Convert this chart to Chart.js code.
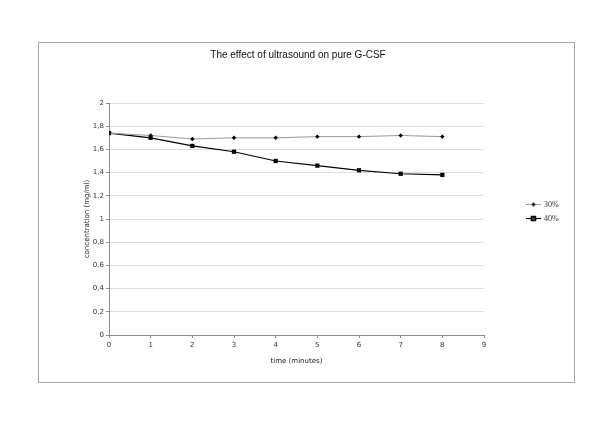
<!DOCTYPE html>
<html>
<head>
<meta charset="utf-8">
<script src="https://cdn.jsdelivr.net/npm/chart.js@4/dist/chart.umd.min.js"></script>
<style>
  html, body { margin: 0; padding: 0; background: #fff; }
  #wrap { width: 600px; height: 424px; }
</style>
</head>
<body>
<div id="wrap"><canvas id="myChart" width="600" height="424"></canvas></div>
<script>
// Ultrasound effect on G-CSF, redrawn with Chart.js

const times = [0, 1, 2, 3, 4, 5, 6, 7, 8];
const conc30 = [1.74, 1.72, 1.69, 1.70, 1.70, 1.71, 1.71, 1.72, 1.71];
const conc40 = [1.74, 1.70, 1.63, 1.58, 1.50, 1.46, 1.42, 1.39, 1.38];
const seriesNames = ['30%', '40%'];
const yTickLabels = ['0', '0,2', '0,4', '0,6', '0,8', '1', '1,2', '1,4', '1,6', '1,8', '2'];
const xTickLabels = ['0', '1', '2', '3', '4', '5', '6', '7', '8', '9'];

const tickFont = { family: 'DejaVu Sans', size: 7 };

// outer frame + a legend with line and marker, like the original sheet
const framePlugin = {
    id: 'frame',
    beforeDraw(chart) {
        const ctx = chart.ctx;
        ctx.save();
        ctx.fillStyle = '#fff';
        ctx.fillRect(0, 0, chart.width, chart.height);
        ctx.strokeStyle = '#a6a6a6';
        ctx.lineWidth = 1;
        ctx.strokeRect(38.5, 42.5, 536, 340);
        ctx.restore();
    },
    afterDraw(chart) {
        const ctx = chart.ctx;
        ctx.save();
        chart.data.datasets.forEach((ds, i) => {
            const y = 204.5 + i * 14;
            ctx.strokeStyle = ds.borderColor;
            ctx.lineWidth = ds.borderWidth;
            ctx.beginPath();
            ctx.moveTo(526, y);
            ctx.lineTo(541, y);
            ctx.stroke();
            Chart.helpers.drawPoint(ctx, {
                pointStyle: ds.pointStyle,
                radius: ds.pointRadius,
                rotation: 0,
                borderWidth: 1
            }, 533.5, y);
            ctx.fillStyle = '#333';
            ctx.font = '8px "Liberation Serif"';
            ctx.textBaseline = 'middle';
            ctx.fillText(ds.label, 544, y);
        });
        ctx.restore();
    }
};

function pts(ys) {
    return times.map((t, i) => ({ x: t, y: ys[i] }));
}

const ctx = document.getElementById('myChart');
new Chart(ctx, {
    type: 'line',
    data: {
        datasets: [{
            label: seriesNames[0],
            data: pts(conc30),
            borderColor: '#9a9a9a',
            backgroundColor: '#000',
            pointBorderColor: '#000',
            pointBackgroundColor: '#000',
            borderWidth: 1,
            pointStyle: 'rectRot',
            pointRadius: 2.2,
            pointBorderWidth: 0
        },
        {
            label: seriesNames[1],
            data: pts(conc40),
            borderColor: '#000',
            backgroundColor: '#000',
            pointBorderColor: '#000',
            pointBackgroundColor: '#000',
            borderWidth: 1.2,
            pointStyle: 'rect',
            pointRadius: 3,
            pointBorderWidth: 0
        }]
    },
    options: {
        responsive: false,
        animation: false,
        layout: {
            padding: { left: 79, right: 83, top: 0, bottom: 59 }
        },
        scales: {
            x: {
                type: 'linear',
                min: 0,
                max: 9,
                afterFit: s => { s.height = 30; },
                ticks: {
                    stepSize: 1,
                    font: tickFont,
                    color: '#333',
                    padding: 3,
                    maxRotation: 0,
                    callback: v => xTickLabels[v]
                },
                grid: {
                    drawOnChartArea: false,
                    drawTicks: true,
                    tickLength: 3,
                    color: '#8c8c8c'
                },
                border: { color: '#8c8c8c' },
                title: {
                    display: true,
                    text: 'time (minutes)',
                    font: tickFont,
                    color: '#222',
                    padding: { top: 2, bottom: 0 }
                }
            },
            y: {
                min: 0,
                max: 2,
                afterFit: s => { s.width = 30; },
                ticks: {
                    stepSize: 0.2,
                    font: tickFont,
                    color: '#333',
                    padding: 2,
                    callback: (v, i) => yTickLabels[i]
                },
                grid: {
                    color: '#dedede',
                    tickColor: '#8c8c8c',
                    tickLength: 3
                },
                border: { color: '#8c8c8c' },
                title: {
                    display: true,
                    text: 'concentration (mg/ml)',
                    font: tickFont,
                    color: '#222',
                    padding: { top: 4, bottom: 0 }
                }
            },
            // empty right-hand band where the legend sits
            side: {
                position: 'right',
                afterFit: s => { s.width = 33; },
                ticks: { display: false },
                grid: { display: false },
                border: { display: false }
            }
        },
        plugins: {
            legend: { display: false },
            tooltip: { enabled: false },
            title: {
                display: true,
                text: 'The effect of ultrasound on pure G-CSF',
                font: { family: 'Liberation Sans', size: 10, weight: 'normal' },
                color: '#111',
                padding: { top: 49, bottom: 42 }
            }
        }
    },
    plugins: [framePlugin]
});
</script>
</body>
</html>
